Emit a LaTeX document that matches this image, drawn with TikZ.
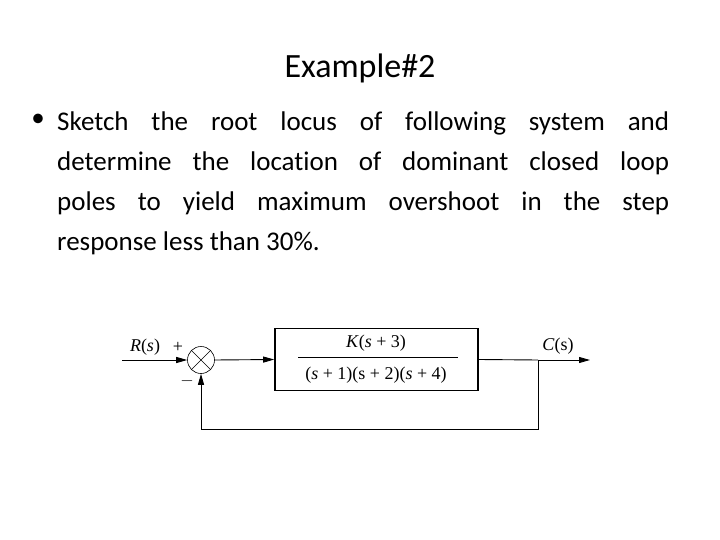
\documentclass[tikz,border=0pt]{standalone}
\usepackage{fontspec}
\setmainfont{Carlito}[Ligatures=NoCommon]
\newfontfamily\tnr{Liberation Serif}
\usetikzlibrary{arrows.meta}
\begin{document}
\begin{tikzpicture}[x=1pt,y=-1pt,
  sig/.style={line width=0.9pt,-{Triangle[length=11pt,width=6pt]}},
  ln/.style={line width=0.9pt},
  lbl/.style={font=\tnr\fontsize{18}{20}\selectfont,inner sep=0pt}]
\useasboundingbox (0,0) rectangle (720,540);
\node[font=\fontsize{34}{40}\selectfont] (title) at (360,68) {Example\#2};
\node[font=\fontsize{27}{40}\selectfont,anchor=north] (bul) at (38,111) {•};
\node[font=\fontsize{27}{40}\selectfont,anchor=north west,text width=612pt,align=justify,inner sep=0pt] (body) at (57,112)
{Sketch the root locus of following system and\linebreak determine the location of dominant closed loop\linebreak poles to yield maximum overshoot in the step\linebreak response less than 30\%.};
\coordinate (in) at (122,360);
\node[draw,circle,minimum size=27pt,inner sep=0pt,line width=0.6pt] (sum) at (201,360) {};
\draw[line width=0.6pt] (sum.north west)--(sum.south east) (sum.north east)--(sum.south west);
\node[draw,line width=1.6pt,minimum width=203pt,minimum height=62pt] (G) at (376.5,359.5) {};
\draw[ln] (298,357)--(458,357);
\node[lbl] (num) at (376,343) {\textit{K}(\textit{s} + 3)};
\node[lbl] (den) at (376,375) {(\textit{s} + 1)(s + 2)(\textit{s} + 4)};
\coordinate (br) at (538,360);
\coordinate (out) at (590,360);
\coordinate (fb1) at (538,429);
\coordinate (fb2) at (201,429);
\draw[sig] (in)--(sum.west);
\draw[sig] (sum.east)--(G.west);
\draw[ln] (G.east)--(br);
\draw[sig] (br)--(out);
\draw[sig] (br)--(fb1)--(fb2)--(sum.south);
\node[lbl] (R) at (145,347) {\textit{R}(\textit{s})};
\node[lbl] (C) at (558,346) {\textit{C}(s)};
\node[lbl] (plus) at (178,347) {+};
\node[lbl] (minus) at (187,381) {$-$};
\end{tikzpicture}
\end{document}
